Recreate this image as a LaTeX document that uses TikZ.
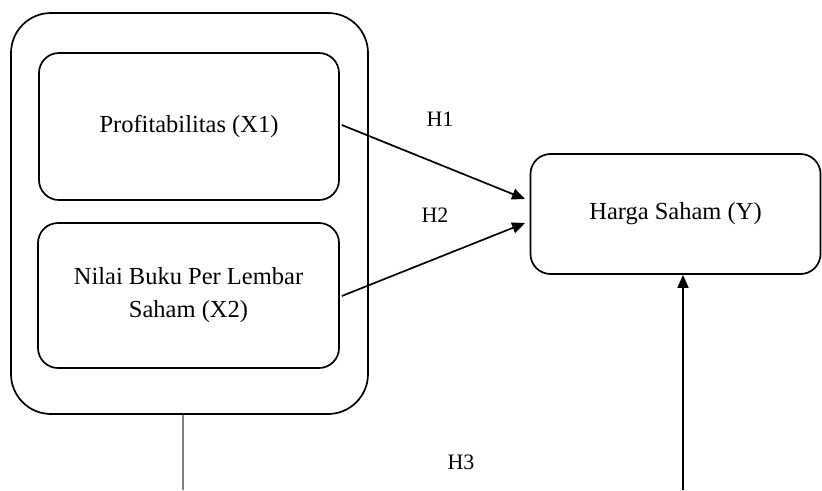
\documentclass[tikz,border=0pt]{standalone}
\usepackage{fontspec}
\setmainfont{Liberation Serif}
\usetikzlibrary{arrows.meta,calc}
\begin{document}
\begin{tikzpicture}[x=1pt,y=-1pt,
  box/.style={draw, line width=1.7pt, rounded corners=20pt, align=center, inner sep=0pt,
    font=\fontsize{24.5}{33}\selectfont},
  conn/.style={line width=1.7pt, -{Triangle[length=13pt,width=11pt]}},
  lbl/.style={font=\fontsize{22}{26}\selectfont, inner sep=0pt}]
\useasboundingbox (0,0) rectangle (822,490);
\node[box, rounded corners=40pt, minimum width=357pt, minimum height=401pt] (outer) at (189.5,213.5) {};
\node[box, minimum width=300pt, minimum height=147pt] (x1) at (189,126.5) {Profitabilitas (X1)};
\node[box, minimum width=301pt, minimum height=145pt] (x2) at (188.5,295.5) {Nilai Buku Per Lembar\\Saham (X2)};
\node[box, minimum width=290pt, minimum height=120pt] (y) at (675.5,214) {Harga Saham (Y)};
\coordinate (h1end) at (525,199);
\coordinate (h2end) at (525,223);
\coordinate (gbot) at (183,490);
\coordinate (vbot) at (683,490);
\draw[conn] ($(x1.east)+(2,-1.5)$) -- (h1end);
\draw[conn] ($(x2.east)+(2,0.5)$) -- (h2end);
\draw[line width=1.1pt, gray] (outer.south -| gbot) -- (gbot);
\draw[conn] (vbot) -- (y.south -| vbot);
\node[lbl] (h1) at (440,119) {H1};
\node[lbl] (h2) at (435,215) {H2};
\node[lbl] (h3) at (461,462) {H3};
\end{tikzpicture}
\end{document}
